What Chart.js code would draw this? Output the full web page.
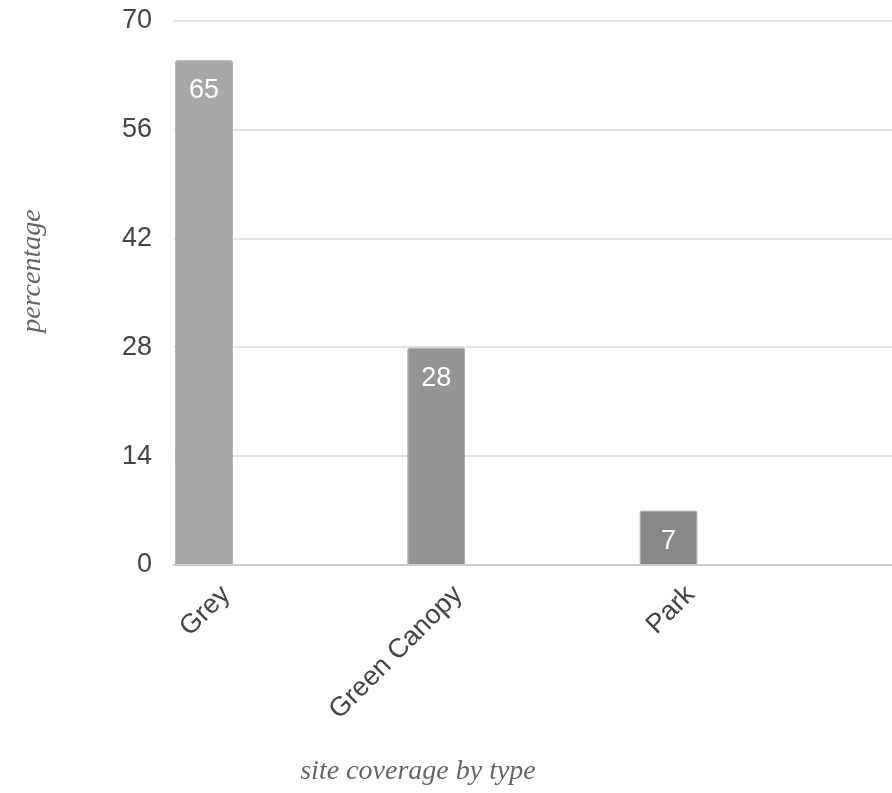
<!DOCTYPE html>
<html>
<head>
<meta charset="utf-8">
<script src="https://cdn.jsdelivr.net/npm/chart.js@4/dist/chart.umd.min.js"></script>
<style>
  html, body { margin: 0; padding: 0; background: #ffffff; overflow: hidden; }
  canvas { display: block; }
</style>
</head>
<body>
<canvas id="chart" width="892" height="793"></canvas>
<script>
// Site coverage by type (percentage of site area)
const categories = ['Grey', 'Green Canopy', 'Park'];
const coverage = [65, 28, 7];
const yTicks = [0, 14, 28, 42, 56, 70];

const barFill = ['#a7a7a7', '#959595', '#888888'];
const barEdge = ['#b4b4b4', '#a4a4a4', '#989898'];

const TICK_FONT = { family: '"Liberation Sans", Arial, sans-serif', size: 27 };
const TITLE_FONT = 'italic 28px "Liberation Serif", "Times New Roman", serif';

// White value labels inside the top of each bar
const valueLabels = {
  id: 'valueLabels',
  afterDatasetsDraw(chart) {
    const ctx = chart.ctx;
    const meta = chart.getDatasetMeta(0);
    ctx.save();
    ctx.fillStyle = '#ffffff';
    ctx.font = '27px "Liberation Sans", Arial, sans-serif';
    ctx.textAlign = 'center';
    ctx.textBaseline = 'middle';
    meta.data.forEach((bar, i) => {
      ctx.fillText(String(coverage[i]), bar.x, bar.y + 31);
    });
    ctx.restore();
  }
};

// Axis titles, set in an italic serif face
const axisTitles = {
  id: 'axisTitles',
  afterDraw(chart) {
    const ctx = chart.ctx;
    ctx.save();
    ctx.fillStyle = '#666666';
    ctx.font = TITLE_FONT;
    ctx.textAlign = 'center';
    ctx.textBaseline = 'middle';
    ctx.fillText('site coverage by type', 418, 772);
    ctx.translate(33, 271);
    ctx.rotate(-Math.PI / 2);
    ctx.fillText('percentage', 0, 0);
    ctx.restore();
  }
};

new Chart(document.getElementById('chart'), {
  type: 'bar',
  data: {
    datasets: [{
      data: coverage.map((v, i) => ({ x: i, y: v })),
      backgroundColor: barFill,
      borderColor: barEdge,
      borderWidth: 1,
      borderSkipped: 'bottom',
      borderRadius: { topLeft: 3, topRight: 3 },
      barPercentage: 0.25,
      categoryPercentage: 1
    }]
  },
  options: {
    responsive: false,
    animation: false,
    layout: { padding: { top: 21, right: 0, bottom: 0, left: 0 } },
    plugins: { legend: { display: false }, tooltip: { enabled: false } },
    scales: {
      x: {
        type: 'linear',
        offset: false,
        min: -0.129,
        max: 2.962,
        afterBuildTicks(scale) {
          scale.ticks = categories.map((_, i) => ({ value: i }));
        },
        afterFit(scale) {
          scale.height = 228;
          scale.paddingLeft = 0;
          scale.paddingRight = 0;
        },
        grid: { display: false, drawTicks: false },
        border: { display: true, color: '#cccccc', width: 2 },
        ticks: {
          autoSkip: false,
          maxRotation: 45,
          minRotation: 45,
          padding: 14,
          labelOffset: 22,
          color: '#444444',
          font: TICK_FONT,
          callback: (v) => categories[v] ?? ''
        }
      },
      y: {
        min: 0,
        max: 70,
        afterBuildTicks(scale) {
          scale.ticks = yTicks.map(v => ({ value: v }));
        },
        afterFit(scale) {
          scale.width = 174;
          scale.paddingTop = 0;
          scale.paddingBottom = 0;
        },
        grid: { color: '#e3e3e3', lineWidth: 2, drawTicks: false },
        border: { display: false },
        ticks: {
          padding: 22,
          color: '#444444',
          font: TICK_FONT
        }
      }
    }
  },
  plugins: [valueLabels, axisTitles]
});
</script>
</body>
</html>
